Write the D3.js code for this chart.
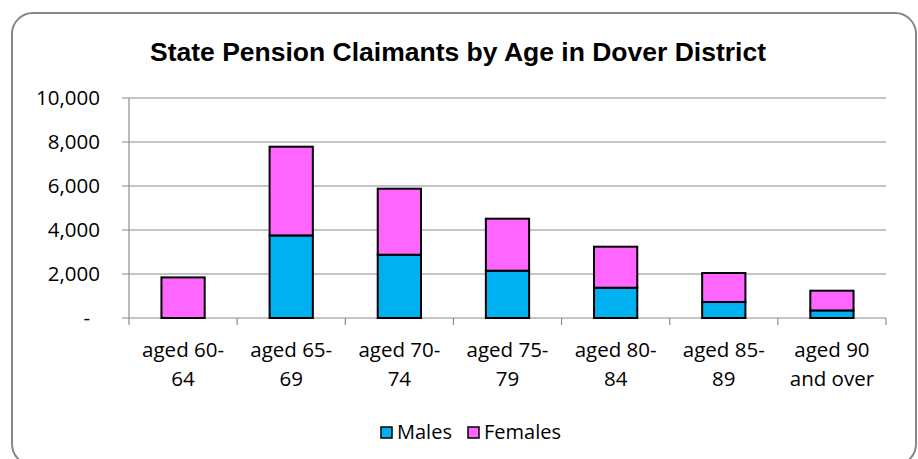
<!DOCTYPE html>
<meta charset="utf-8">
<style type="text/css">
  body { margin: 0; background: #fff; }
  .title { font-family: "Liberation Sans", Arial, sans-serif; font-weight: bold; font-size: 26.5px; }
  .axis text, .legend text { font-family: "Open Sans", sans-serif; font-size: 20.5px; fill: #000; }
  .legend text { font-size: 20px; }
</style>
<body>
<script src="https://d3js.org/d3.v7.min.js"></script>
<script>
  // data
  var categories = ["aged 60-64", "aged 65-69", "aged 70-74", "aged 75-79", "aged 80-84", "aged 85-89", "aged 90 and over"];
  var labelLines = [["aged 60-", "64"], ["aged 65-", "69"], ["aged 70-", "74"], ["aged 75-", "79"], ["aged 80-", "84"], ["aged 85-", "89"], ["aged 90", "and over"]];
  var males = [0, 3755, 2877, 2150, 1377, 727, 345];
  var females = [1845, 4031, 3000, 2364, 1864, 1318, 896];
  var seriesNames = ["Males", "Females"];
  var colors = ["#00B0F0", "#FF66FF"];
  var yTicks = [0, 2000, 4000, 6000, 8000, 10000];

  var w = 918, h = 459;
  var plotL = 129, plotR = 886, plotT = 98, plotB = 318;

  var svg = d3.select("body").append("svg")
    .attr("width", w)
    .attr("height", h);

  // outer frame
  svg.append("rect")
    .attr("x", 12).attr("y", 13)
    .attr("width", 904).attr("height", 452)
    .attr("rx", 21).attr("ry", 21)
    .attr("fill", "#fff")
    .attr("stroke", "#878787")
    .attr("stroke-width", 2);

  svg.append("text")
    .attr("class", "title")
    .attr("x", 458).attr("y", 61)
    .attr("text-anchor", "middle")
    .text("State Pension Claimants by Age in Dover District");

  var x = d3.scaleBand().domain(categories).range([plotL, plotR]).paddingInner(0.6).paddingOuter(0.3);
  var y = d3.scaleLinear().domain([0, 10000]).range([plotB, plotT]);

  // gridlines
  svg.append("g").selectAll("line")
    .data(yTicks)
    .enter().append("line")
    .attr("x1", plotL - 7).attr("x2", plotR)
    .attr("y1", function(d) { return y(d); })
    .attr("y2", function(d) { return y(d); })
    .attr("stroke", "#8c8c8c")
    .attr("stroke-width", 1.2);

  // y axis line
  svg.append("line")
    .attr("x1", plotL).attr("x2", plotL)
    .attr("y1", plotT).attr("y2", plotB)
    .attr("stroke", "#8c8c8c").attr("stroke-width", 1.2);

  var yAxis = svg.append("g").attr("class", "axis");
  yAxis.selectAll("text")
    .data(yTicks)
    .enter().append("text")
    .attr("x", function(d) { return d === 0 ? 90 : 100; })
    .attr("y", function(d) { return y(d); })
    .attr("dy", "0.35em")
    .attr("text-anchor", "end")
    .text(function(d) { return d === 0 ? "-" : d3.format(",")(d); });

  // x axis ticks at category boundaries
  var bounds = categories.map(function(c) { return x(c) - x.step() * x.paddingOuter(); });
  bounds.push(plotR);
  svg.append("g").selectAll("line")
    .data(bounds)
    .enter().append("line")
    .attr("x1", function(d) { return d; }).attr("x2", function(d) { return d; })
    .attr("y1", plotB).attr("y2", plotB + 7)
    .attr("stroke", "#8c8c8c").attr("stroke-width", 1.2);

  // stacked bars
  var rows = categories.map(function(c, i) { return { cat: c, Males: males[i], Females: females[i] }; });
  var stack = d3.stack().keys(seriesNames)(rows);

  svg.append("g").selectAll("g")
    .data(stack)
    .enter().append("g")
    .attr("fill", function(d, i) { return colors[i]; })
    .selectAll("rect")
    .data(function(d) { return d.filter(function(p) { return p[1] - p[0] > 0; }); })
    .enter().append("rect")
    .attr("x", function(d) { return x(d.data.cat); })
    .attr("y", function(d) { return y(d[1]); })
    .attr("width", x.bandwidth())
    .attr("height", function(d) { return y(d[0]) - y(d[1]); })
    .attr("stroke", "#000")
    .attr("stroke-width", 2);

  // x labels
  var xAxis = svg.append("g").attr("class", "axis");
  xAxis.selectAll("text")
    .data(categories)
    .enter().append("text")
    .attr("text-anchor", "middle")
    .each(function(d, i) {
      var t = d3.select(this);
      labelLines[i].forEach(function(line, j) {
        t.append("tspan")
          .attr("x", x(d) + x.bandwidth() / 2)
          .attr("y", 357 + j * 28.5)
          .text(line);
      });
    });

  // legend
  var legendX = [381, 468];
  var legend = svg.append("g").attr("class", "legend");
  seriesNames.forEach(function(name, i) {
    legend.append("rect")
      .attr("x", legendX[i]).attr("y", 427)
      .attr("width", 11).attr("height", 11)
      .attr("fill", colors[i])
      .attr("stroke", "#000").attr("stroke-width", 1.5);
    legend.append("text")
      .attr("x", legendX[i] + 16).attr("y", 439)
      .text(name);
  });
</script>
</body>
